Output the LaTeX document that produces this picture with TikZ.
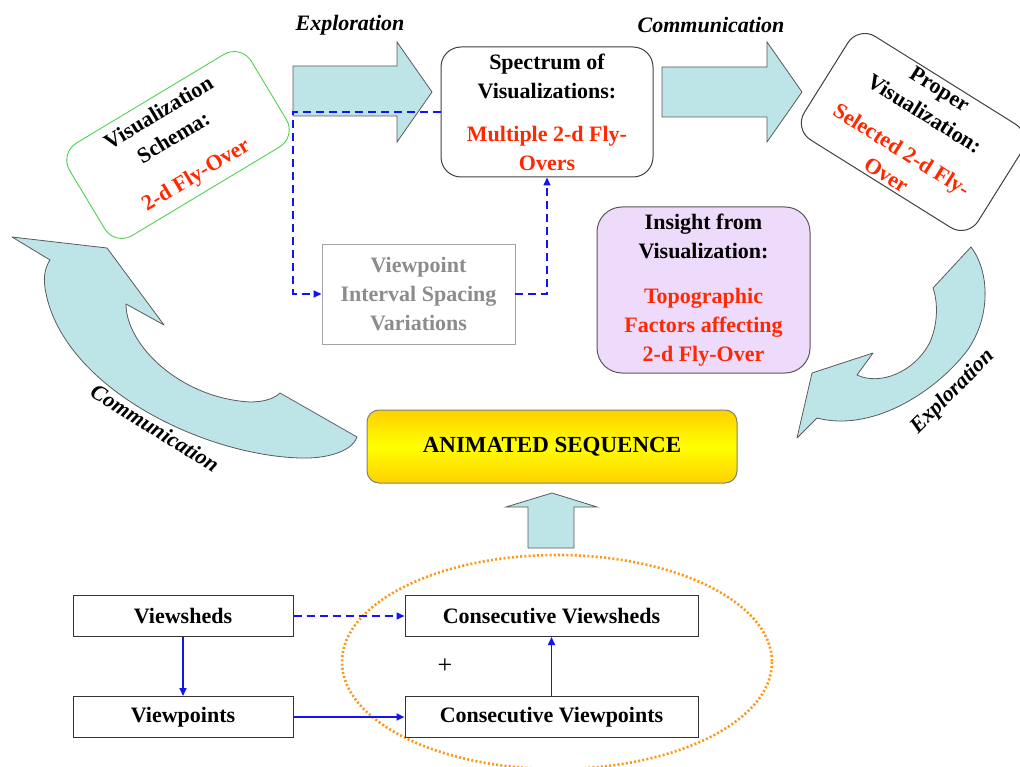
\documentclass[tikz,border=0pt]{standalone}
\usepackage{fontspec}
\setmainfont{Liberation Serif}
\usetikzlibrary{arrows.meta,shapes.geometric}
\definecolor{arrowfill}{RGB}{189,229,232}
\definecolor{arrowline}{RGB}{90,90,90}
\definecolor{redtxt}{RGB}{255,40,0}
\definecolor{schemagreen}{RGB}{80,210,80}
\definecolor{dashblue}{RGB}{20,20,240}
\definecolor{insightfill}{RGB}{238,218,250}
\definecolor{dotorange}{RGB}{255,150,20}
\definecolor{goldtop}{RGB}{255,208,0}
\definecolor{vpgray}{RGB}{140,140,140}
\tikzset{
  blockarrow/.style={fill=arrowfill, draw=arrowline, line width=0.8pt, line join=miter},
  mainbox/.style={draw=black!75, line width=1pt, fill=white, rounded corners=20pt, align=center,
    font=\bfseries\fontsize{22}{29}\selectfont, inner sep=0pt},
  flowbox/.style={draw=black!80, line width=1pt, fill=white, minimum height=41pt, inner sep=0pt,
    font=\bfseries\fontsize{22}{26}\selectfont},
  conn/.style={draw=dashblue, line width=1.6pt, -{Triangle[length=8pt,width=7pt]}},
  dashconn/.style={conn, dash pattern=on 8pt off 5pt},
  steplabel/.style={font=\bfseries\itshape\fontsize{22}{26}\selectfont, inner sep=0pt},
}
\begin{document}
\begin{tikzpicture}[x=1pt,y=-1pt]
\useasboundingbox (0,0) rectangle (1020,767);

% orange dotted ellipse
\draw[dotorange, line width=2.6pt, dash pattern=on 2pt off 2.2pt]
  (557,662) ellipse [x radius=215, y radius=107];

% top block arrows
\draw[blockarrow] (293,66) -- (397,66) -- (397,42) -- (432,92) -- (397,142) -- (397,116) -- (293,116) -- cycle;
\draw[blockarrow] (662,67) -- (767,67) -- (767,42) -- (802,92) -- (767,142) -- (767,117) -- (662,117) -- cycle;
% up arrow
\draw[blockarrow] (552,493) -- (597,507) -- (574,507) -- (574,548) -- (528,548) -- (528,507) -- (506,507) -- cycle;

% left curved arrow (Communication)
\draw[blockarrow, line join=round] (12,237) -- (107,248) -- (164,325) -- (126,304)
  .. controls (126,345) and (180,398) .. (250,402)
  .. controls (265,402) and (275,398) .. (280,393)
  -- (357,437)
  .. controls (352,452) and (325,459) .. (300,458)
  .. controls (200,455) and (60,385) .. (45,288)
  .. controls (43,275) and (46,266) .. (50,260) -- cycle;

% right curved arrow (Exploration)
\draw[blockarrow, line join=round] (971,247)
  .. controls (992,275) and (990,325) .. (962,357)
  .. controls (930,395) and (870,432) .. (817,418)
  -- (797,438) -- (812,373) -- (873,353) -- (857,375)
  .. controls (880,386) and (915,372) .. (930,342)
  .. controls (938,324) and (938,302) .. (933,288) -- cycle;

% labels of arrows
\node[steplabel] (lblexp1) at (350,25) {Exploration};
\node[steplabel] (lblcom1) at (711,25) {Communication};
\node[steplabel, rotate=-32] (lblcom2) at (155,428) {Communication};
\node[steplabel, rotate=45] (lblexp2) at (953,392) {Exploration};

% main boxes
\node[mainbox, draw=schemagreen, line width=0.9pt, rotate=31, minimum width=212pt, minimum height=108pt]
  (schema) at (178,145) {Visualization\\Schema:\\[14pt]\textcolor{redtxt}{2-d Fly-Over}};
\node[mainbox, minimum width=212pt, minimum height=130pt]
  (spec) at (547,112) {Spectrum of\\Visualizations:\\[14pt]\textcolor{redtxt}{Multiple 2-d Fly-}\\\textcolor{redtxt}{Overs}};
\node[mainbox, rotate=-32, minimum width=205pt, minimum height=122pt]
  (proper) at (913,132) {Proper\\Visualization:\\[14pt]\textcolor{redtxt}{Selected 2-d Fly-}\\\textcolor{redtxt}{Over}};
\node[mainbox, fill=insightfill, draw=black!65, rounded corners=25pt, minimum width=213pt, minimum height=166pt]
  (insight) at (703.5,290) {Insight from\\Visualization:\\[16pt]\textcolor{redtxt}{Topographic}\\\textcolor{redtxt}{Factors affecting}\\\textcolor{redtxt}{2-d Fly-Over}};
\node[mainbox, rounded corners=0pt, draw=vpgray!80, text=vpgray, line width=0.9pt, minimum width=193pt, minimum height=100pt]
  (vp) at (418.5,294) {Viewpoint\\Interval Spacing\\Variations};

% animated sequence
\node[draw=black!50, line width=1pt, rounded corners=12pt, top color=goldtop, bottom color=goldtop, middle color=yellow,
  minimum width=370pt, minimum height=73pt, font=\bfseries\fontsize{23}{26}\selectfont]
  (anim) at (552,446.5) {ANIMATED SEQUENCE};

% dashed connectors top
\draw[dashconn] (spec.west) -- (293,112) |- (vp.west);
\draw[dashconn] (vp.east) -| (spec.south);

% bottom flow
\node[flowbox, minimum width=220pt] (vs) at (183,616) {Viewsheds};
\node[flowbox, minimum width=220pt] (vpt) at (183,717) {Viewpoints};
\node[flowbox, minimum width=293pt] (cvs) at (551.5,616) {Consecutive Viewsheds};
\node[flowbox, minimum width=293pt] (cvp) at (551.5,717) {Consecutive Viewpoints};
\node[font=\fontsize{26}{26}\selectfont, inner sep=0pt] (plus) at (445,666) {+};

\draw[dashconn] (vs.east) -- (cvs.west);
\draw[conn] (vs.south) -- (vpt.north);
\draw[conn, line width=2.6pt] (vpt.east) -- (cvp.west);
\draw[conn] (cvp.north) -- (cvs.south);
\end{tikzpicture}
\end{document}
